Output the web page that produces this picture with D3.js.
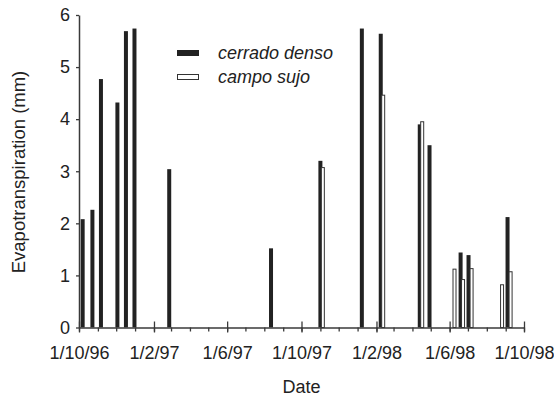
<!DOCTYPE html>
<html>
<head>
<meta charset="utf-8">
<script src="https://cdn.jsdelivr.net/npm/d3@7"></script>
<style>
  body { margin: 0; background: #fff; }
  svg { display: block; }
  text { font-family: "Liberation Sans", Arial, sans-serif; fill: #222; }
</style>
</head>
<body>
<svg width="554" height="406"></svg>
<script>
const denseDates = ["1996-10-07", "1996-10-23", "1996-11-06", "1996-12-03", "1996-12-17", "1996-12-31",
  "1997-02-26", "1997-08-12", "1997-11-01", "1998-01-08", "1998-02-08", "1998-04-13", "1998-04-29",
  "1998-06-19", "1998-07-02", "1998-09-04"];
const denseValues = [2.08, 2.26, 4.77, 4.32, 5.69, 5.74, 3.04, 1.52, 3.20, 5.74, 5.64, 3.90, 3.50, 1.44, 1.39, 2.12];

const sujoDates = ["1997-11-05", "1998-02-12", "1998-04-17", "1998-06-09", "1998-06-23", "1998-07-07",
  "1998-08-26", "1998-09-09"];
const sujoValues = [3.08, 4.47, 3.96, 1.13, 0.93, 1.14, 0.83, 1.08];

const majorTicks = ["1996-10-01", "1997-02-01", "1997-06-01", "1997-10-01", "1998-02-01", "1998-06-01", "1998-10-01"];
const yTicks = [0, 1, 2, 3, 4, 5, 6];
const seriesNames = ["cerrado denso", "campo sujo"];

const parse = d3.timeParse("%Y-%m-%d");
const fmt = d3.timeFormat("%-d/%-m/%y");

const svg = d3.select('svg');
const axisColor = "#3a3a3a";

const x = d3.scaleTime()
  .domain([parse("1996-10-01"), parse("1998-10-01")])
  .range([79, 524]);

const y = d3.scaleLinear()
  .domain([0, 6])
  .range([327.5, 15]);

const dense = denseDates.map((d, i) => ({date: parse(d), value: denseValues[i]}));
const sujo = sujoDates.map((d, i) => ({date: parse(d), value: sujoValues[i]}));

// bars
svg.append('g')
  .selectAll('rect')
  .data(dense)
  .enter()
  .append('rect')
  .attr('x', d => x(d.date) - 2)
  .attr('width', 4)
  .attr('y', d => y(d.value))
  .attr('height', d => y(0) - y(d.value))
  .attr('fill', '#222');

svg.append('g')
  .selectAll('rect')
  .data(sujo)
  .enter()
  .append('rect')
  .attr('x', d => x(d.date) - 1.5)
  .attr('width', 3)
  .attr('y', d => y(d.value) + 0.5)
  .attr('height', d => y(0) - y(d.value) - 0.5)
  .attr('fill', '#fff')
  .attr('stroke', '#333')
  .attr('stroke-width', 1);

// minor monthly ticks
const minorAxis = d3.axisBottom(x)
  .ticks(d3.timeMonth.every(1))
  .tickSize(4)
  .tickSizeOuter(0)
  .tickFormat('');

const gMinor = svg.append('g')
  .attr('transform', `translate(0,${y(0)})`)
  .call(minorAxis);

// major ticks with labels
const majorAxis = d3.axisBottom(x)
  .tickValues(majorTicks.map(parse))
  .tickSize(5)
  .tickSizeOuter(0)
  .tickPadding(14)
  .tickFormat(fmt);

const gMajor = svg.append('g')
  .attr('transform', `translate(0,${y(0)})`)
  .call(majorAxis);

gMajor.selectAll('.tick line').attr('y1', -6);
gMajor.select('.domain').remove();
gMajor.selectAll('.tick text').style('font-size', '18px');

[gMinor, gMajor].forEach(g => {
  g.selectAll('line').attr('stroke', axisColor).attr('stroke-width', 1.3);
  g.selectAll('.domain').attr('stroke', axisColor).attr('stroke-width', 1.5);
});

// y axis
const yAxis = d3.axisLeft(y)
  .tickValues(yTicks)
  .tickSize(3)
  .tickSizeOuter(0)
  .tickPadding(6)
  .tickFormat(d3.format('d'));

const gY = svg.append('g')
  .attr('transform', `translate(79,0)`)
  .call(yAxis);

gY.selectAll('.tick text').style('font-size', '18px');
gY.selectAll('line').attr('stroke', axisColor).attr('stroke-width', 1.3);
gY.select('.domain').attr('stroke', axisColor).attr('stroke-width', 1.5);

// axis titles
svg.append('text')
  .attr('x', 301.5)
  .attr('y', 393)
  .attr('text-anchor', 'middle')
  .style('font-size', '18px')
  .text('Date');

svg.append('text')
  .attr('transform', 'translate(25,172) rotate(-90)')
  .attr('text-anchor', 'middle')
  .style('font-size', '18.5px')
  .text('Evapotranspiration (mm)');

// legend
const legend = svg.append('g')
  .selectAll('g')
  .data(seriesNames)
  .enter()
  .append('g')
  .attr('transform', (d, i) => `translate(177,${50 + i * 24})`);

legend.append('rect')
  .attr('width', (d, i) => i ? 21 : 22)
  .attr('height', (d, i) => i ? 5 : 6)
  .attr('x', (d, i) => i ? 0.5 : 0)
  .attr('y', (d, i) => i ? 0.5 : 0)
  .attr('fill', (d, i) => i ? '#fff' : '#222')
  .attr('stroke', (d, i) => i ? '#333' : 'none')
  .attr('stroke-width', 1);

legend.append('text')
  .attr('x', 41)
  .attr('y', 3)
  .attr('dy', '0.35em')
  .style('font-size', '18px')
  .style('font-style', 'italic')
  .text(d => d);
</script>
</body>
</html>
